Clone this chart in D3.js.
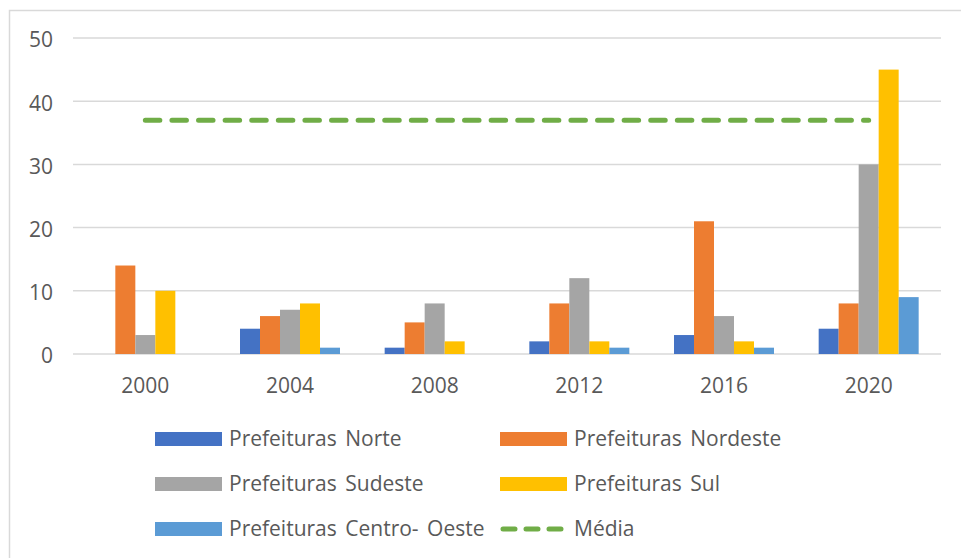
<!DOCTYPE html>
<html>
<head>
<meta charset="utf-8">
<script src="https://cdn.jsdelivr.net/npm/d3@7"></script>
<style>
  html, body { margin: 0; padding: 0; background: #fff; }
  svg { display: block; }
  text { font-family: "Open Sans", "Liberation Sans", Arial, sans-serif; fill: #595959; }
</style>
</head>
<body>
<svg id="chart" width="961" height="558"></svg>
<script>
const years = ["2000", "2004", "2008", "2012", "2016", "2020"];
const seriesNames = ["Prefeituras Norte", "Prefeituras Nordeste", "Prefeituras Sudeste", "Prefeituras Sul", "Prefeituras Centro- Oeste"];
const norte = [0, 4, 1, 2, 3, 4];
const nordeste = [14, 6, 5, 8, 21, 8];
const sudeste = [3, 7, 8, 12, 6, 30];
const sul = [10, 8, 2, 2, 2, 45];
const centroOeste = [0, 1, 0, 1, 1, 9];
const media = [37, 37, 37, 37, 37, 37];
const mediaName = "Média";
const yTicks = [0, 10, 20, 30, 40, 50];
const colors = ["#4472C4", "#ED7D31", "#A5A5A5", "#FFC000", "#5B9BD5"];
const mediaColor = "#70AD47";

const seriesValues = [norte, nordeste, sudeste, sul, centroOeste];
const FONT = "'Open Sans', 'Liberation Sans', Arial, sans-serif";

const svg = d3.select("#chart");

// outer frame
svg.append("path")
  .attr("d", "M9.5,558 V10.5 H961")
  .attr("fill", "none").attr("stroke", "#D9D9D9").attr("stroke-width", 1.5);

const plot = { left: 73, right: 941, top: 38, bottom: 354 };

const x = d3.scaleBand().domain(years).range([plot.left, plot.right]).paddingInner(0).paddingOuter(0);
const y = d3.scaleLinear().domain([0, 50]).range([plot.bottom, plot.top]);

const groupWidth = 100;
const xs = d3.scaleBand().domain(d3.range(seriesNames.length)).range([0, groupWidth]).padding(0);

// gridlines
const grid = svg.append("g").attr("class", "grid");
grid.selectAll("line").data(yTicks).join("line")
  .attr("x1", plot.left).attr("x2", plot.right)
  .attr("y1", d => y(d)).attr("y2", d => y(d))
  .attr("stroke", "#D9D9D9").attr("stroke-width", 1.5);

// y axis labels
const yAxis = d3.axisLeft(y).tickValues(yTicks).tickSize(0).tickPadding(0);
const yg = svg.append("g").attr("transform", `translate(${plot.left - 20},0)`).call(yAxis);
yg.select(".domain").remove();
yg.selectAll("text").attr("font-size", 21).attr("fill", "#595959").attr("dy", "0.42em")
  .style("font-family", FONT);

// x axis labels
const xAxis = d3.axisBottom(x).tickSize(0).tickPadding(0);
const xg = svg.append("g").attr("transform", `translate(0,${plot.bottom + 24})`).call(xAxis);
xg.select(".domain").remove();
xg.selectAll("text").attr("font-size", 21).attr("fill", "#595959")
  .style("font-family", FONT);

// bars
seriesValues.forEach((vals, si) => {
  svg.append("g").selectAll("rect").data(vals.map((v, i) => ({ v, year: years[i] }))).join("rect")
    .attr("x", d => x(d.year) + x.bandwidth() / 2 - groupWidth / 2 + xs(si))
    .attr("width", xs.bandwidth())
    .attr("y", d => y(d.v))
    .attr("height", d => y(0) - y(d.v))
    .attr("fill", colors[si]);
});

// media line
const line = d3.line().x((d, i) => x(years[i]) + x.bandwidth() / 2).y(d => y(d));
svg.append("path").datum(media)
  .attr("d", line)
  .attr("fill", "none").attr("stroke", mediaColor).attr("stroke-width", 5)
  .attr("stroke-linecap", "round")
  .attr("stroke-dasharray", "14.5 12.1");

// legend
const legendItems = seriesNames.map((n, i) => ({ name: n, color: colors[i], type: "bar" }))
  .concat([{ name: mediaName, color: mediaColor, type: "line" }]);
const colX = [155, 500];
const rowY = [439, 484, 529];
const lg = svg.append("g");
legendItems.forEach((it, i) => {
  const cx = colX[i % 2];
  const cy = rowY[Math.floor(i / 2)];
  if (it.type === "bar") {
    lg.append("rect").attr("x", cx).attr("y", cy - 7).attr("width", 67).attr("height", 14).attr("fill", it.color);
  } else {
    lg.append("line").attr("x1", cx + 3).attr("x2", cx + 64).attr("y1", cy).attr("y2", cy)
      .attr("stroke", it.color).attr("stroke-width", 5).attr("stroke-linecap", "round")
      .attr("stroke-dasharray", "12 11");
  }
  lg.append("text").attr("x", cx + 74).attr("y", cy).attr("dy", "0.35em")
    .attr("font-size", 21).attr("word-spacing", "3px").text(it.name);
});
</script>
</body>
</html>
